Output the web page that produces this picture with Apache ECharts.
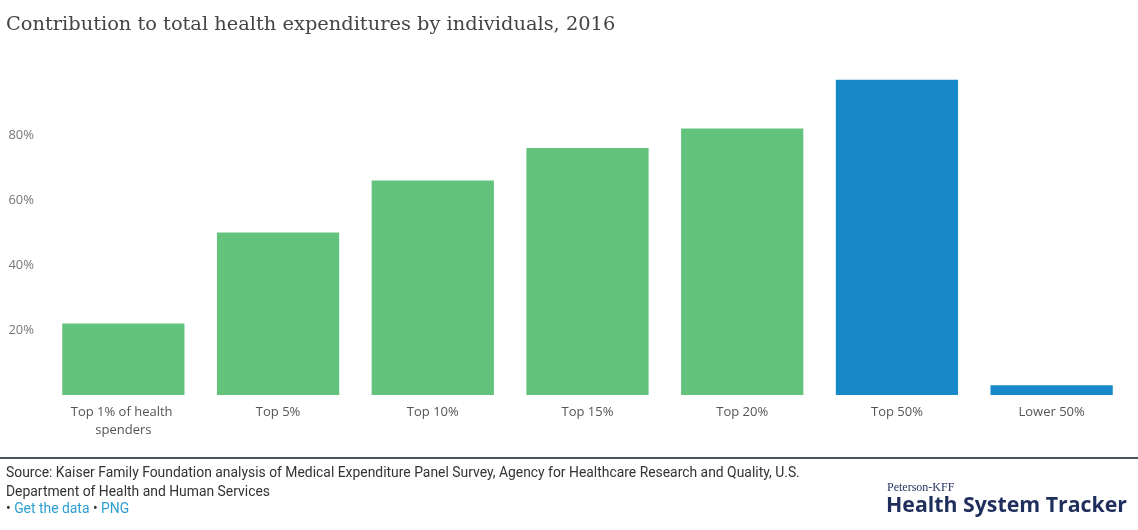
<!DOCTYPE html>
<html>
<head>
<meta charset="utf-8">
<script src="https://cdn.jsdelivr.net/npm/echarts@6/dist/echarts.min.js"></script>
<style>
html,body{margin:0;padding:0;background:#fff;}
#chart{width:1138px;height:530px;}
</style>
</head>
<body>
<div id="chart"></div>
<script>
const categories = ["Top 1% of health spenders", "Top 5%", "Top 10%", "Top 15%", "Top 20%", "Top 50%", "Lower 50%"];
const values = [22, 50, 66, 76, 82, 97, 3];
const highlighted = [false, false, false, false, false, true, true];
const yTicks = [0, 20, 40, 60, 80, 100];
const titleText = "Contribution to total health expenditures by individuals, 2016";
const sourceLines = [
  "Source: Kaiser Family Foundation analysis of Medical Expenditure Panel Survey, Agency for Healthcare Research and Quality, U.S.",
  "Department of Health and Human Services"
];

const GREEN = "#63c37d";
const BLUE = "#1788c8";

const chart = echarts.init(document.getElementById('chart'), null, {renderer: 'canvas'});
chart.setOption({
  animation: false,
  backgroundColor: '#fff',
  title: {
    text: titleText,
    left: 1, top: 10,
    textStyle: {fontFamily: 'DejaVu Serif', fontWeight: 'normal', fontSize: 19.4, color: '#444'}
  },
  grid: {left: 46, right: 9, top: 70, height: 325, containLabel: false},
  xAxis: {
    type: 'category',
    data: categories,
    axisLine: {show: false},
    axisTick: {show: false},
    axisLabel: {
      interval: 0, margin: 8, color: '#555', fontSize: 13, fontFamily: 'Open Sans',
      width: 120, overflow: 'break', lineHeight: 18
    }
  },
  yAxis: {
    type: 'value',
    min: yTicks[0], max: yTicks[yTicks.length - 1], interval: 20,
    splitLine: {show: false},
    axisLine: {show: false},
    axisTick: {show: false},
    axisLabel: {
      margin: 12, color: '#777', fontSize: 13, fontFamily: 'Open Sans',
      formatter: v => (v === 0 || v === 100) ? '' : v + '%'
    }
  },
  series: [{
    type: 'bar',
    barWidth: '79%',
    data: values.map((v, i) => ({value: v, itemStyle: {color: highlighted[i] ? BLUE : GREEN}})),
    label: {show: false}
  }],
  graphic: [
    {type: 'rect', left: 0, top: 457, shape: {width: 1138, height: 2}, style: {fill: '#4a5563'}},
    {type: 'text', left: 6, top: 467, style: {text: sourceLines[0], font: '13.9px Roboto', fill: '#333'}},
    {type: 'text', left: 6, top: 486, style: {text: sourceLines[1], font: '13.9px Roboto', fill: '#333'}},
    {type: 'text', left: 6, top: 503, style: {
      text: '{d|• }{l|Get the data}{d| • }{l|PNG}',
      rich: {d: {font: '13.9px Roboto', fill: '#333'}, l: {font: '13.9px Roboto', fill: '#2a9fd0'}}
    }},
    {type: 'text', left: 887, top: 482, style: {text: 'Peterson-KFF', font: '12px Liberation Serif', fill: '#1f2e5c'}},
    {type: 'text', left: 886, top: 495, style: {text: 'Health System Tracker', font: 'bold 21.3px Open Sans', fill: '#1f2e5c'}}
  ]
});
</script>
</body>
</html>
